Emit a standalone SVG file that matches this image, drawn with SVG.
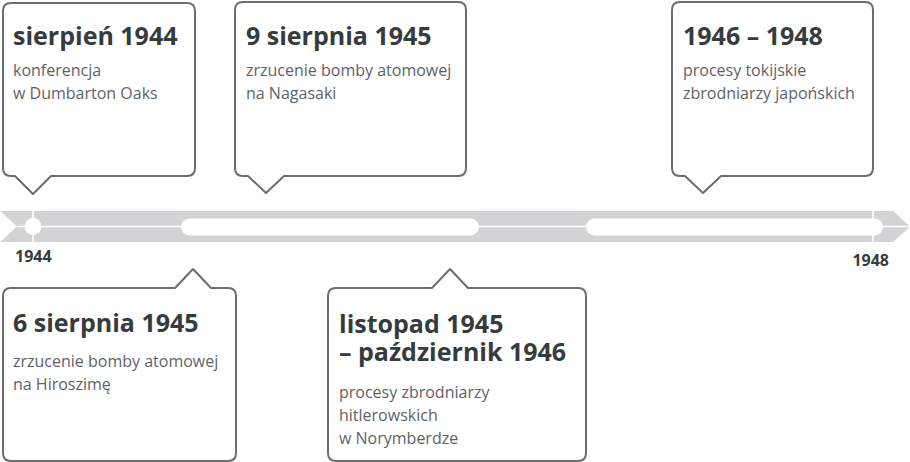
<svg xmlns="http://www.w3.org/2000/svg" width="910" height="462" viewBox="0 0 910 462">
  <style>
    .box { fill: #ffffff; stroke: #6b6e70; stroke-width: 2; stroke-linejoin: round; }
    .title { font-family: "Open Sans", "Noto Sans", sans-serif; font-weight: 700; font-size: 25px; fill: #363b3e; }
    .body { font-family: "Open Sans", "Noto Sans", sans-serif; font-size: 16px; fill: #5f6366; }
    .year { font-family: "Open Sans", "Noto Sans", sans-serif; font-weight: 700; font-size: 16px; fill: #363b3e; }
    .bar { fill: #d1d3d4; }
    .gap { fill: #ffffff; }
  </style>
  <rect width="910" height="462" fill="#ffffff"/>
  <g id="timeline">
    <polygon class="bar" points="0,211 893,211 910,226.5 893,242 0,242 17,226.5"/>
    <rect class="gap" x="17" y="225.7" width="893" height="1.6"/>
    <rect class="gap" x="32.2" y="211" width="1.6" height="31"/>
    <rect class="gap" x="872.2" y="211" width="1.6" height="31"/>
    <circle class="gap" cx="33" cy="226.5" r="8.5"/>
    <rect class="gap" x="181" y="218.5" width="298" height="17" rx="8.5"/>
    <rect class="gap" x="586" y="218.5" width="297" height="17" rx="8.5"/>
    <text class="year" x="15" y="262">1944</text>
    <text class="year" x="889" y="266" text-anchor="end">1948</text>
  </g>
  <g id="connectors"></g>
  <g id="node-1944">
    <path class="box" d="M11,3 H187 Q195,3 195,11 V168 Q195,176 187,176 H51 L33,194 L15,176 H11 Q3,176 3,168 V11 Q3,3 11,3 Z"/>
    <text class="title" x="13" y="45">sierpień 1944</text>
    <text class="body" x="13" y="76">konferencja</text>
    <text class="body" x="13" y="99">w Dumbarton Oaks</text>
  </g>
  <g id="node-nagasaki">
    <path class="box" d="M243,2 H458 Q466,2 466,10 V168 Q466,176 458,176 H284 L266,193 L248,176 H243 Q235,176 235,168 V10 Q235,2 243,2 Z"/>
    <text class="title" x="246" y="45">9 sierpnia 1945</text>
    <text class="body" x="246" y="76">zrzucenie bomby atomowej</text>
    <text class="body" x="246" y="99">na Nagasaki</text>
  </g>
  <g id="node-tokio">
    <path class="box" d="M680,2 H865 Q873,2 873,10 V168 Q873,176 865,176 H721 L703,193 L685,176 H680 Q672,176 672,168 V10 Q672,2 680,2 Z"/>
    <text class="title" x="683" y="45">1946 – 1948</text>
    <text class="body" x="683" y="76">procesy tokijskie</text>
    <text class="body" x="683" y="99">zbrodniarzy japońskich</text>
  </g>
  <g id="node-hiroszima">
    <path class="box" d="M11,288 H175 L193,269 L211,288 H228 Q236,288 236,296 V453 Q236,461 228,461 H11 Q3,461 3,453 V296 Q3,288 11,288 Z"/>
    <text class="title" x="13" y="332">6 sierpnia 1945</text>
    <text class="body" x="13" y="367">zrzucenie bomby atomowej</text>
    <text class="body" x="13" y="390">na Hiroszimę</text>
  </g>
  <g id="node-norymberga">
    <path class="box" d="M336,288 H432 L450,269 L468,288 H578 Q586,288 586,296 V453 Q586,461 578,461 H336 Q328,461 328,453 V296 Q328,288 336,288 Z"/>
    <text class="title" x="339" y="333">listopad 1945<tspan x="339" y="361">– październik 1946</tspan></text>
    <text class="body" x="339" y="398">procesy zbrodniarzy</text>
    <text class="body" x="339" y="421">hitlerowskich</text>
    <text class="body" x="339" y="444">w Norymberdze</text>
  </g>
</svg>
